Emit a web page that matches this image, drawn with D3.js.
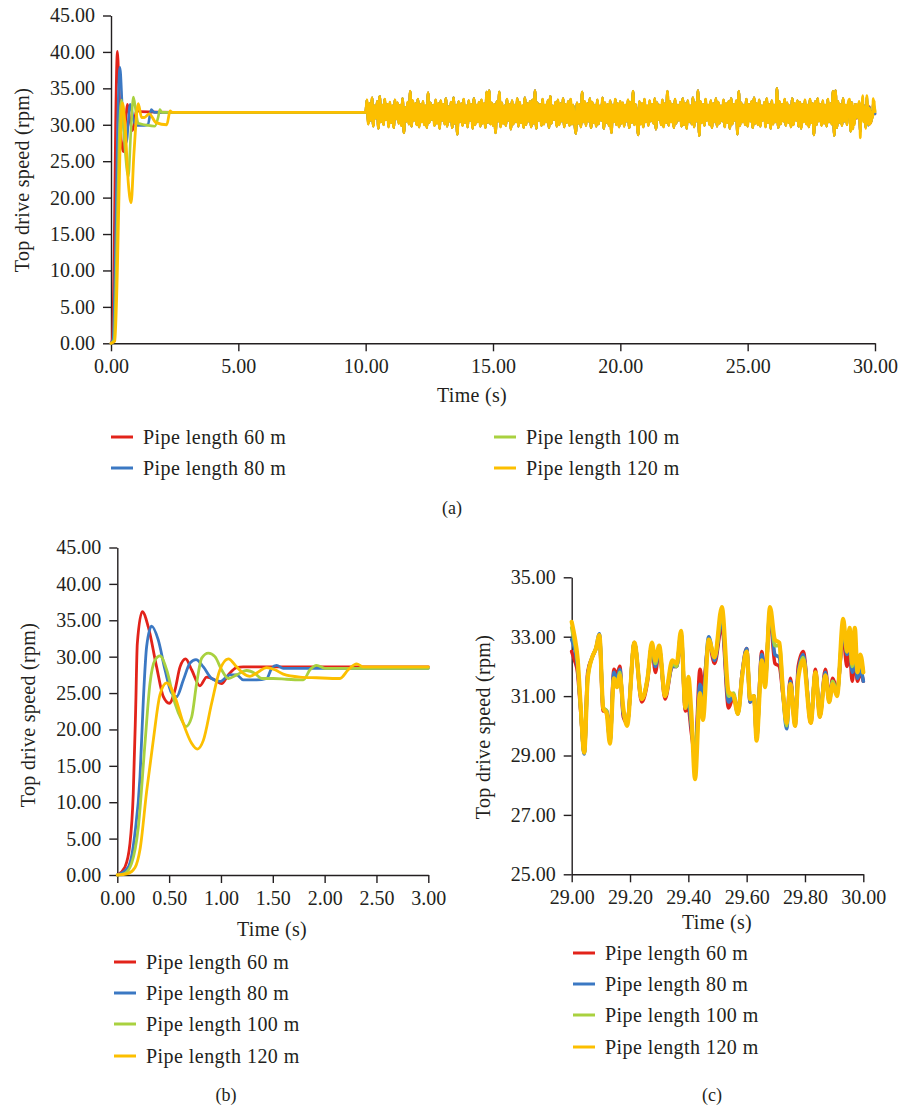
<!DOCTYPE html>
<html><head><meta charset="utf-8">
<script src="https://cdn.jsdelivr.net/npm/d3@7"></script>
<style>body{margin:0;background:#fff}</style>
</head><body><svg id="chart" width="900" height="1107"></svg>
<script>
// ---------- shared ----------
const seriesNames = ["Pipe length 60 m", "Pipe length 80 m", "Pipe length 100 m", "Pipe length 120 m"];
const seriesColors = ["#e2231a", "#3b78c3", "#a9d13f", "#fcbf00"];

// ---------- panel (a) : 0-30 s ----------
const xTicksA = [0, 5, 10, 15, 20, 25, 30];
const yTicksA = [0, 5, 10, 15, 20, 25, 30, 35, 40, 45];
const tA60  = [0, 0.05, 0.12, 0.18, 0.25, 0.33, 0.40, 0.48, 0.56, 0.65, 0.75, 0.85, 1.00, 1.15, 2.5, 10.0];
const vA60  = [0, 0.5, 12, 30, 40.1, 34, 28, 26.3, 30, 32.8, 30.5, 29.2, 32.0, 31.8, 31.7, 31.7];
const tA80  = [0, 0.08, 0.17, 0.26, 0.35, 0.45, 0.60, 0.75, 0.90, 1.00, 1.30, 1.45, 1.58, 1.70, 10.0];
const vA80  = [0, 0.5, 12, 30, 37.9, 32, 27.5, 32.8, 30.5, 29.9, 29.9, 30.0, 32.1, 31.7, 31.7];
const tA100 = [0, 0.12, 0.22, 0.32, 0.41, 0.52, 0.68, 0.78, 0.88, 0.97, 1.07, 1.33, 1.72, 1.85, 1.92, 2.0, 10.0];
const vA100 = [0, 0.5, 12, 28, 33.4, 28, 22.9, 29, 33.8, 32, 30.2, 30.0, 29.8, 31.0, 32.1, 31.7, 31.7];
const tA120 = [0, 0.15, 0.25, 0.35, 0.45, 0.55, 0.68, 0.79, 0.90, 1.07, 1.20, 1.31, 1.50, 1.77, 2.19, 2.32, 2.40, 10.0];
const vA120 = [0, 0.3, 10, 26, 33.0, 30, 22, 19.3, 26, 32.9, 31.0, 31.0, 31.5, 30.3, 30.0, 31.9, 31.7, 31.7];
// fluctuation 10.05 s - 28.95 s, one value every 0.05 s (one row per second)
const noiseStartA = 10.05, noiseStepA = 0.05;
const noiseA = [
33.4, 30.1, 32.9, 30.6, 33.7, 29.8, 32.6, 30.9, 33.2, 29.5, 33.9, 30.4, 32.7, 30.0, 33.5, 30.7, 32.8, 29.7, 33.1, 30.3,
32.6, 29.6, 33.4, 30.8, 33.0, 30.2, 32.7, 29.9, 33.6, 28.9, 32.4, 30.5, 33.1, 30.1, 34.6, 29.8, 33.3, 30.6, 32.9, 30.0,
33.5, 29.7, 32.8, 30.4, 33.2, 30.0, 32.6, 29.6, 34.4, 30.3, 33.0, 30.7, 32.7, 29.9, 33.4, 30.2, 32.9, 29.5, 33.3, 30.6,
32.8, 30.1, 33.6, 29.8, 32.5, 30.5, 33.1, 29.6, 33.7, 30.2, 32.7, 28.7, 33.2, 30.4, 32.9, 29.9, 33.5, 30.3, 32.6, 29.7,
33.3, 30.6, 32.8, 29.5, 33.6, 30.0, 32.7, 30.4, 33.1, 29.8, 33.4, 30.2, 32.9, 29.6, 34.5, 30.3, 34.7, 30.1, 33.0, 29.9,
32.8, 28.9, 33.2, 30.5, 34.5, 29.7, 33.0, 30.2, 32.6, 29.9, 33.5, 30.6, 32.8, 29.4, 33.3, 30.1, 32.7, 30.4, 33.6, 29.8,
33.1, 30.3, 32.6, 29.6, 33.7, 30.0, 32.9, 30.5, 33.2, 29.7, 33.4, 30.2, 34.7, 29.5, 33.0, 30.6, 32.8, 29.9, 33.5, 30.1,
32.7, 30.4, 33.3, 29.6, 33.9, 30.2, 32.6, 30.7, 33.1, 29.8, 33.4, 30.0, 32.9, 30.5, 33.6, 29.7, 32.8, 30.3, 33.2, 29.9,
33.5, 30.1, 32.7, 30.6, 28.8, 33.0, 30.2, 32.8, 29.7, 34.5, 30.4, 33.2, 29.9, 32.9, 30.5, 33.6, 29.6, 33.1, 30.3, 32.7,
29.8, 33.4, 30.1, 32.6, 30.6, 33.7, 29.5, 33.0, 30.3, 32.8, 29.9, 33.3, 28.9, 32.7, 30.4, 33.5, 30.0, 32.9, 29.7, 33.2,
30.2, 33.0, 29.8, 32.7, 30.5, 33.4, 29.6, 33.1, 30.3, 34.6, 30.0, 32.8, 30.6, 28.6, 33.2, 30.1, 32.9, 29.7, 33.5, 30.4,
32.6, 29.9, 33.3, 30.5, 32.8, 30.2, 33.6, 29.4, 33.0, 30.7, 32.7, 30.0, 33.4, 29.7, 32.9, 30.3, 34.6, 29.9, 33.2, 30.4,
32.8, 29.6, 33.5, 30.2, 32.7, 30.6, 33.1, 29.8, 33.6, 30.0, 32.9, 29.5, 33.3, 30.4, 32.6, 30.1, 33.7, 29.7, 33.0, 30.5,
34.7, 28.5, 33.2, 30.3, 32.8, 29.9, 33.5, 30.6, 32.7, 30.0, 33.3, 29.6, 32.9, 30.4, 33.6, 29.8, 33.1, 30.2, 32.6, 30.5,
33.4, 29.7, 32.9, 30.3, 33.2, 29.5, 33.6, 30.1, 32.8, 30.6, 33.3, 28.7, 34.6, 29.9, 33.0, 30.4, 32.7, 30.0, 33.5, 29.8,
32.8, 30.5, 33.2, 29.6, 33.7, 30.2, 32.9, 30.0, 33.4, 29.8, 32.6, 30.6, 33.1, 29.7, 33.6, 30.3, 32.8, 29.5, 33.3, 30.1,
32.7, 30.4, 35.0, 29.6, 33.2, 30.1, 32.8, 30.5, 33.5, 29.9, 33.0, 30.3, 32.6, 29.7, 33.6, 30.0, 32.9, 30.6, 33.3, 29.8,
33.1, 29.5, 32.8, 30.4, 33.4, 30.1, 32.7, 29.7, 33.5, 30.3, 32.9, 28.6, 33.2, 30.0, 33.6, 30.5, 32.8, 29.9, 33.3, 30.2,
32.7, 29.8, 33.5, 30.4, 32.9, 30.1, 34.6, 28.5, 34.7, 29.6, 33.2, 30.3, 32.8, 29.9, 33.6, 30.5, 32.7, 30.0, 33.1];

// ---------- panel (b) : 0-3 s ----------
const xTicksB = [0, 0.5, 1, 1.5, 2, 2.5, 3];
const yTicksB = [0, 5, 10, 15, 20, 25, 30, 35, 40, 45];
const tB60  = [0, 0.074, 0.122, 0.154, 0.177, 0.193, 0.241, 0.299, 0.379, 0.444, 0.502, 0.556, 0.605, 0.659, 0.717, 0.797, 0.862, 0.942, 1.006, 1.071, 1.151, 1.215, 3.0];
const vB60  = [0, 1.1, 4.3, 11.2, 22.7, 31.8, 36.2, 34.1, 28.6, 24.5, 23.6, 25.4, 28.6, 29.7, 28.2, 26.0, 27.2, 26.8, 26.3, 27.5, 28.5, 28.6, 28.6];
const tB80  = [0, 0.106, 0.170, 0.219, 0.251, 0.283, 0.331, 0.395, 0.460, 0.524, 0.572, 0.637, 0.701, 0.759, 0.830, 0.910, 0.990, 1.087, 1.151, 1.215, 1.344, 1.441, 1.489, 1.537, 1.601, 3.0];
const vB80  = [0, 1.1, 5.7, 13.5, 24.0, 31.4, 34.2, 32.3, 28.2, 25.0, 24.5, 26.8, 29.1, 29.6, 28.6, 27.0, 26.6, 27.5, 27.5, 26.8, 26.8, 27.0, 28.4, 28.8, 28.4, 28.4];
const tB100 = [0, 0.07, 0.138, 0.203, 0.267, 0.315, 0.363, 0.412, 0.476, 0.556, 0.621, 0.662, 0.717, 0.765, 0.814, 0.878, 0.942, 1.006, 1.071, 1.151, 1.248, 1.328, 1.392, 1.505, 1.633, 1.794, 1.859, 1.923, 2.003, 3.0];
const vB100 = [0, 0.2, 1.6, 6.6, 18.1, 26.3, 29.5, 30.1, 28.2, 23.6, 21.3, 20.4, 21.7, 26.3, 29.8, 30.5, 30.0, 28.2, 27.0, 27.5, 28.1, 27.7, 27.0, 27.0, 26.9, 26.8, 28.2, 28.8, 28.4, 28.4];
const tB120 = [0, 0.10, 0.170, 0.219, 0.283, 0.347, 0.412, 0.476, 0.556, 0.637, 0.717, 0.772, 0.830, 0.910, 0.990, 1.071, 1.151, 1.215, 1.280, 1.360, 1.441, 1.521, 1.601, 1.762, 1.923, 2.148, 2.228, 2.309, 2.373, 3.0];
const vB120 = [0, 0.2, 1.0, 3.5, 11.5, 18.5, 24.8, 26.4, 24.5, 20.8, 18.1, 17.3, 18.5, 23.6, 28.2, 29.7, 28.6, 27.7, 27.3, 27.9, 28.5, 28.2, 27.6, 27.2, 27.1, 27.0, 28.2, 29.0, 28.6, 28.6];

// ---------- panel (c) : 29-30 s ----------
const xTicksC = [29, 29.2, 29.4, 29.6, 29.8, 30];
const yTicksC = [25, 27, 29, 31, 33, 35];
const tC = [29.000, 29.010, 29.020, 29.030, 29.043, 29.055, 29.070, 29.083, 29.095, 29.108,
            29.120, 29.131, 29.145, 29.155, 29.165, 29.177, 29.190, 29.215, 29.240, 29.260,
            29.275, 29.287, 29.300, 29.320, 29.345, 29.360, 29.375, 29.390, 29.400, 29.410,
            29.423, 29.440, 29.450, 29.470, 29.490, 29.515, 29.538, 29.555, 29.570, 29.585,
            29.600, 29.612, 29.625, 29.634, 29.652, 29.663, 29.680, 29.697, 29.712, 29.725,
            29.737, 29.750, 29.766, 29.777, 29.794, 29.820, 29.836, 29.851, 29.870, 29.883,
            29.895, 29.910, 29.931, 29.944, 29.953, 29.962, 29.971, 29.980, 29.990, 30.000];
const vC60  = [32.5, 32.2, 31.8, 30.6, 29.1, 31.8, 32.3, 32.6, 33.0, 30.5,
               30.5, 29.5, 31.9, 31.7, 32.0, 30.3, 30.1, 32.8, 30.8, 31.5,
               32.7, 31.8, 32.6, 30.9, 32.0, 32.0, 33.0, 30.5, 30.6, 29.8,
               29.0, 31.9, 31.3, 32.8, 32.1, 33.4, 30.6, 31.0, 30.5, 31.8,
               32.6, 30.8, 31.0, 29.6, 32.5, 31.6, 33.7, 32.1, 32.0, 31.0,
               30.1, 31.6, 30.0, 32.0, 32.5, 30.1, 31.9, 30.3, 31.9, 30.9,
               31.6, 31.2, 33.0, 32.0, 32.6, 31.5, 32.4, 31.5, 31.8, 31.5];
const vC80  = [32.9, 32.6, 32.0, 30.7, 29.05, 31.7, 32.3, 32.6, 33.1, 30.6,
               30.5, 29.45, 31.8, 31.5, 31.9, 30.4, 30.1, 32.8, 30.9, 31.6,
               32.7, 32.0, 32.6, 31.0, 32.0, 32.0, 33.1, 30.6, 30.8, 30.0,
               29.0, 31.4, 31.0, 33.0, 32.2, 33.6, 30.8, 31.0, 30.4, 31.8,
               32.6, 30.8, 31.0, 29.7, 32.4, 31.5, 33.8, 32.4, 32.3, 31.0,
               29.9, 31.5, 30.1, 31.8, 32.4, 30.2, 31.8, 30.4, 31.8, 30.8,
               31.5, 31.1, 33.2, 32.4, 32.9, 31.8, 32.3, 31.6, 31.9, 31.5];
const vC100 = [33.3, 32.8, 32.2, 30.7, 29.1, 31.6, 32.3, 32.6, 33.0, 30.6,
               30.5, 29.5, 31.6, 31.4, 31.8, 30.5, 30.1, 32.8, 30.9, 31.6,
               32.7, 32.1, 32.6, 31.0, 32.1, 32.0, 33.1, 30.6, 31.2, 30.2,
               28.9, 31.0, 30.6, 32.9, 32.3, 33.8, 31.0, 31.1, 30.4, 31.7,
               32.5, 30.9, 31.0, 29.6, 32.2, 31.4, 33.9, 32.7, 32.7, 31.1,
               30.0, 31.4, 30.2, 31.7, 32.3, 30.2, 31.8, 30.4, 31.7, 30.9,
               31.5, 31.1, 33.3, 32.6, 33.0, 32.0, 32.6, 31.8, 32.2, 31.8];
const vC120 = [33.5, 33.0, 32.3, 30.8, 29.1, 31.6, 32.3, 32.6, 33.05, 30.6,
               30.4, 29.4, 31.6, 31.3, 31.7, 30.6, 30.0, 32.8, 30.9, 31.6,
               32.8, 32.2, 32.7, 31.0, 32.2, 32.1, 33.2, 30.6, 31.65, 30.5,
               28.2, 31.1, 30.2, 32.9, 32.3, 34.0, 31.15, 31.0, 30.4, 31.7,
               32.5, 30.9, 31.0, 29.5, 32.2, 31.3, 34.0, 32.9, 32.8, 31.1,
               30.1, 31.4, 30.0, 31.6, 32.2, 30.1, 31.8, 30.3, 31.7, 30.8,
               31.4, 31.0, 33.6, 32.5, 33.3, 32.1, 33.3, 31.8, 32.4, 31.8];

// ---------- drawing ----------
const svg = d3.select("#chart");
svg.append("rect").attr("width", 900).attr("height", 1107).attr("fill", "#fff");
const FONT = "'Liberation Serif','Times New Roman',serif";
const ink = "#231f20";
const fmt = d3.format(".2f");
const zip = (t, v) => t.map((tt, i) => [tt, v[i]]);

function axes(x, y, xt, yt) {
  const gx = svg.append("g").attr("transform", `translate(0,${y.range()[0]})`)
    .call(d3.axisBottom(x).tickValues(xt).tickFormat(fmt).tickSize(8).tickSizeOuter(0).tickPadding(8));
  const gy = svg.append("g").attr("transform", `translate(${x.range()[0]},0)`)
    .call(d3.axisLeft(y).tickValues(yt).tickFormat(fmt).tickSize(8).tickSizeOuter(0).tickPadding(8));
  [gx, gy].forEach(g => {
    g.selectAll("path,line").attr("stroke", ink).attr("stroke-width", 1.4);
    g.selectAll("text").attr("fill", ink).style("font-family", FONT).style("font-size", "20px");
  });
}
function lines(x, y, data, widths) {
  const gen = d3.line().x(d => x(d[0])).y(d => y(d[1])).curve(d3.curveMonotoneX);
  data.forEach((s, i) => svg.append("path").datum(s)
    .attr("fill", "none").attr("stroke", seriesColors[i]).attr("stroke-width", widths[i])
    .attr("stroke-linejoin", "round").attr("stroke-linecap", "round").attr("d", gen));
}
function text(x, y, s, size, anchor, rot, ls) {
  return svg.append("text").attr("transform", `translate(${x},${y})` + (rot ? ` rotate(${rot})` : ""))
    .attr("text-anchor", anchor).attr("fill", ink).style("font-family", FONT).style("font-size", size + "px")
    .style("letter-spacing", (ls || 0) + "px").text(s);
}
function legend(ys, xs, idx) {
  idx.forEach((k, j) => {
    svg.append("line").attr("x1", xs[j]).attr("x2", xs[j] + 22).attr("y1", ys[j]).attr("y2", ys[j])
      .attr("stroke", seriesColors[k]).attr("stroke-width", 3);
    text(xs[j] + 32, ys[j] + 7, seriesNames[k], 20, "start", 0, 0.45);
  });
}

// panel (a)
{
  const x = d3.scaleLinear().domain([0, 30]).range([111, 875]);
  const y = d3.scaleLinear().domain([0, 45]).range([343.3, 15.5]);
  axes(x, y, xTicksA, yTicksA);
  const noisePts = noiseA.map((v, i) => [noiseStartA + i * noiseStepA, v]);
  const tr = [[tA60, vA60], [tA80, vA80], [tA100, vA100], [tA120, vA120]];
  const vc = [vC60, vC80, vC100, vC120];
  const data = tr.map((p, i) => zip(p[0], p[1]).concat(noisePts, zip(tC, vc[i])));
  lines(x, y, data, [2.6, 2.6, 2.6, 2.8]);
  text(472, 402, "Time (s)", 20, "middle", 0, 0.3);
  text(29, 180, "Top drive speed (rpm)", 20, "middle", -90, 0.3);
  legend([437, 468, 437, 468], [111, 111, 494, 494], [0, 1, 2, 3]);
  text(452, 514, "(a)", 18, "middle", 0, 0);
}
// panel (b)
{
  const x = d3.scaleLinear().domain([0, 3]).range([117.3, 428.3]);
  const y = d3.scaleLinear().domain([0, 45]).range([875, 547.5]);
  axes(x, y, xTicksB, yTicksB);
  lines(x, y, [zip(tB60, vB60), zip(tB80, vB80), zip(tB100, vB100), zip(tB120, vB120)], [2.8, 2.8, 2.8, 2.8]);
  text(272, 936, "Time (s)", 20, "middle", 0, 0.3);
  text(35, 715, "Top drive speed (rpm)", 20, "middle", -90, 0.3);
  legend([962, 993, 1024, 1056], [114, 114, 114, 114], [0, 1, 2, 3]);
  text(226, 1101, "(b)", 18, "middle", 0, 0);
}
// panel (c)
{
  const x = d3.scaleLinear().domain([29, 30]).range([571.7, 863.3]);
  const y = d3.scaleLinear().domain([25, 35]).range([874.3, 577.3]);
  axes(x, y, xTicksC, yTicksC);
  lines(x, y, [zip(tC, vC60), zip(tC, vC80), zip(tC, vC100), zip(tC, vC120)], [3.6, 3.6, 3.6, 4.2]);
  text(717, 929, "Time (s)", 20, "middle", 0, 0.3);
  text(490, 727, "Top drive speed (rpm)", 20, "middle", -90, 0.3);
  legend([953, 984, 1015, 1047], [573, 573, 573, 573], [0, 1, 2, 3]);
  text(712, 1101, "(c)", 18, "middle", 0, 0);
}
</script></body></html>
